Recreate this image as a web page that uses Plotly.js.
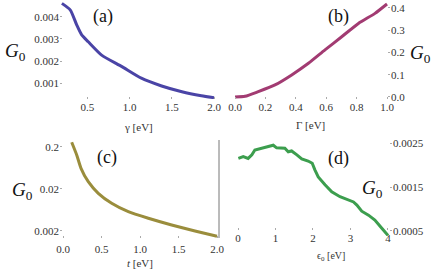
<!DOCTYPE html>
<html><head><meta charset="utf-8">
<script src="https://cdn.plot.ly/plotly-3.0.1.min.js"></script>
<style>html,body{margin:0;padding:0;background:#fff}#c{width:436px;height:273px}</style>
</head><body><div id="c"></div>
<script>
// Panel (a): G0 vs gamma
const gammaA = [0.2, 0.3, 0.375, 0.434, 0.512, 0.67, 0.91, 1.14, 1.38, 1.62, 1.85, 2.0];
const g0A = [0.0046, 0.0043, 0.00363, 0.00318, 0.00287, 0.00227, 0.00175, 0.00123, 0.00088, 0.00062, 0.00044, 0.00035];
// Panel (b): G0 vs Gamma
const gammaB = [0.0, 0.066, 0.153, 0.263, 0.373, 0.483, 0.592, 0.702, 0.812, 0.921, 1.0];
const g0B = [0.0, 0.003, 0.024, 0.054, 0.099, 0.151, 0.211, 0.27, 0.33, 0.375, 0.417];
// Panel (c): G0 vs t (log)
const tC = [0.113, 0.178, 0.234, 0.328, 0.458, 0.632, 0.848, 1.108, 1.411, 1.714, 2.0];
const g0C = [0.259, 0.129, 0.0622, 0.0298, 0.0158, 0.00914, 0.00577, 0.00402, 0.00278, 0.0020, 0.0015];
// Panel (d): G0 vs eps0
const eD = [0.01, 0.14, 0.27, 0.37, 0.45, 0.63, 0.81, 0.94, 1.03, 1.17, 1.25, 1.34, 1.43, 1.57, 1.70, 1.87, 1.98, 2.05, 2.14, 2.32, 2.50, 2.72, 2.94, 3.08, 3.17, 3.30, 3.48, 3.65, 3.83, 4.0];
const g0D = [0.00215, 0.00219, 0.00215, 0.00223, 0.00234, 0.00238, 0.00242, 0.00245, 0.00239, 0.00239, 0.00238, 0.0023, 0.00232, 0.00223, 0.00214, 0.00209, 0.00204, 0.00189, 0.00173, 0.00155, 0.00139, 0.00128, 0.0012, 0.00116, 0.00109, 0.00095, 0.00086, 0.00075, 0.00057, 0.0004];

const xTicksA = [0.5, 1.0, 1.5, 2.0], xTickTextA = ['0.5', '1.0', '1.5', '2.0'];
const yTicksA = [0.001, 0.002, 0.003, 0.004], yTickTextA = ['0.001', '0.002', '0.003', '0.004'];
const xTicksB = [0, 0.2, 0.4, 0.6, 0.8, 1.0], xTickTextB = ['0.0', '0.2', '0.4', '0.6', '0.8', '1.0'];
const yTicksB = [0, 0.1, 0.2, 0.3, 0.4], yTickTextB = ['0.0', '0.1', '0.2', '0.3', '0.4'];
const xTicksC = [0, 0.5, 1.0, 1.5, 2.0], xTickTextC = ['0.0', '0.5', '1.0', '1.5', '2.0'];
const yTicksC = [0.002, 0.02, 0.2], yTickTextC = ['0.002', '0.02', '0.2'];
const xTicksD = [0, 1, 2, 3, 4], xTickTextD = ['0', '1', '2', '3', '4'];
const yTicksD = [0.0005, 0.0015, 0.0025], yTickTextD = ['0.0005', '0.0015', '0.0025'];

const W = 436, H = 273;
const px = v => v / W, py = v => 1 - v / H;
const SERIF = '"Liberation Serif", "DejaVu Serif", serif';
const tickFont = {family: SERIF, size: 11, color: '#333'};

function ax(extra) {
  return Object.assign({
    showgrid: false, zeroline: false, showline: false,
    ticks: 'inside', ticklen: 2, tickcolor: '#aaa', tickwidth: 1,
    tickfont: tickFont, tickmode: 'array', fixedrange: true
  }, extra);
}
function label(text, x, y, size, color) {
  return {text: text, x: px(x), y: py(y), xref: 'paper', yref: 'paper', xanchor: 'center', yanchor: 'middle',
          showarrow: false, font: {family: SERIF, size: size, color: color}};
}

const data = [
  {x: gammaA, y: g0A, xaxis: 'x', yaxis: 'y', mode: 'lines', line: {color: '#4a44a6', width: 3, shape: 'spline', smoothing: 0.6}},
  {x: gammaB, y: g0B, xaxis: 'x2', yaxis: 'y2', mode: 'lines', line: {color: '#a23b72', width: 3, shape: 'spline', smoothing: 0.6}},
  {x: tC, y: g0C, xaxis: 'x3', yaxis: 'y3', mode: 'lines', line: {color: '#9a8d3c', width: 3, shape: 'spline', smoothing: 0.6}},
  {x: eD, y: g0D, xaxis: 'x4', yaxis: 'y4', mode: 'lines', line: {color: '#3c9e4e', width: 3}}
];

const layout = {
  width: W, height: H, margin: {l: 0, r: 0, t: 0, b: 0}, showlegend: false,
  paper_bgcolor: '#fff', plot_bgcolor: 'rgba(0,0,0,0)',
  xaxis: ax({domain: [px(60), px(218)], range: [0.1775, 2.047], anchor: 'y', tickvals: xTicksA, ticktext: xTickTextA}),
  yaxis: ax({domain: [py(99), py(2)], range: [0.000293, 0.004662], anchor: 'x', tickvals: yTicksA, ticktext: yTickTextA}),
  xaxis2: ax({domain: [px(230), px(390)], range: [-0.033, 1.0197], anchor: 'y2', tickvals: xTicksB, ticktext: xTickTextB}),
  yaxis2: ax({domain: [py(99), py(2)], range: [-0.009, 0.426], anchor: 'x2', side: 'right', tickvals: yTicksB, ticktext: yTickTextB}),
  xaxis3: ax({domain: [px(60), px(219)], range: [-0.039, 2.026], anchor: 'y3', tickvals: xTicksC, ticktext: xTickTextC, ticklabelstandoff: 3}),
  yaxis3: ax({domain: [py(238), py(138)], type: 'log', range: [-2.866, -0.485], anchor: 'x3', tickvals: yTicksC, ticktext: yTickTextC}),
  xaxis4: ax({domain: [px(226), px(392)], range: [-0.32, 4.107], anchor: 'free', position: py(230), tickvals: xTicksD, ticktext: xTickTextD}),
  yaxis4: ax({domain: [py(236), py(138)], range: [0.000386, 0.002614], anchor: 'x4', side: 'right', tickvals: yTicksD, ticktext: yTickTextD}),
  shapes: [
    {type: 'line', xref: 'paper', yref: 'paper', x0: px(219), x1: px(219), y0: py(140), y1: py(238), line: {color: '#777', width: 1}}
  ],
  annotations: [
    label('(a)', 103, 16, 18, '#111'),
    label('(b)', 338, 16, 18, '#111'),
    label('(c)', 107, 157, 18, '#111'),
    label('(d)', 338, 158, 18, '#111'),
    label('<i>G</i><sub>0</sub>', 15, 52, 19, '#111'),
    label('<i>G</i><sub>0</sub>', 420, 54, 19, '#111'),
    label('<i>G</i><sub>0</sub>', 22, 191, 19, '#111'),
    label('<i>G</i><sub>0</sub>', 372, 189, 19, '#111'),
    label('γ [eV]', 138, 127, 11, '#333'),
    label('Γ [eV]', 310, 125, 11, '#333'),
    label('<i>t</i> [eV]', 140, 263, 11, '#333'),
    label('ϵ<sub>0</sub> [eV]', 331, 256, 10, '#333')
  ]
};

Plotly.newPlot('c', data, layout, {displayModeBar: false, staticPlot: true});
</script>
</body></html>
